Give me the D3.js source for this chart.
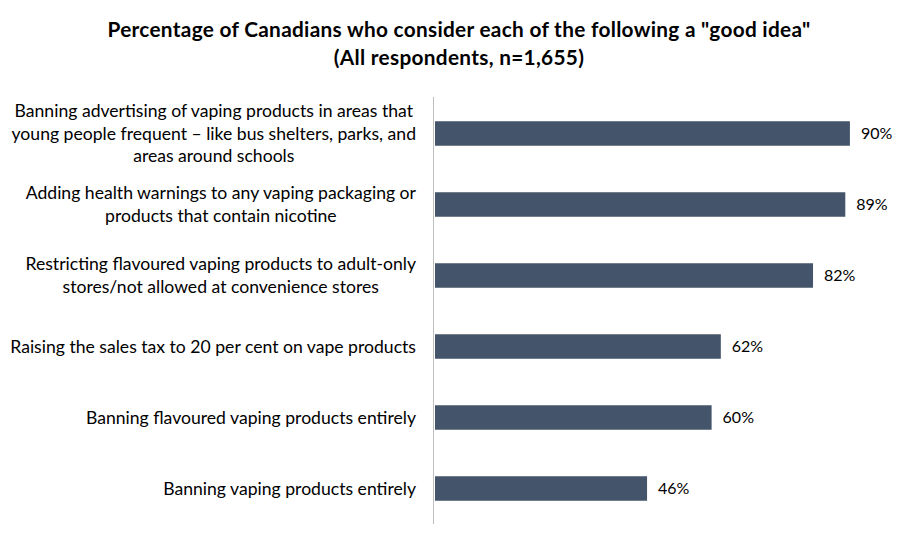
<!DOCTYPE html>
<html><head><meta charset="utf-8">
<script src="https://cdn.jsdelivr.net/npm/d3@7"></script>
<style>body{margin:0;background:#fff}svg{display:block}text{font-family:Lato,"Liberation Sans",sans-serif}</style>
</head><body><svg id="c" width="919" height="547"></svg>
<script>
const titleLines = ['Percentage of Canadians who consider each of the following a "good idea"', '(All respondents, n=1,655)'];
const categories = [
  ["Banning advertising of vaping products in areas that", "young people frequent \u2013 like bus shelters, parks, and", "areas around schools"],
  ["Adding health warnings to any vaping packaging or", "products that contain nicotine"],
  ["Restricting flavoured vaping products to adult-only", "stores/not allowed at convenience stores"],
  ["Raising the sales tax to 20 per cent on vape products"],
  ["Banning flavoured vaping products entirely"],
  ["Banning vaping products entirely"]
];
const values = [90, 89, 82, 62, 60, 46];
const valueLabels = ["90%", "89%", "82%", "62%", "60%", "46%"];

const svg = d3.select("#c");
const x = d3.scaleLinear().domain([0, 100]).range([435, 896]);
const y = d3.scaleBand().domain(d3.range(categories.length)).range([98, 524]).paddingInner(0.655).paddingOuter(0.3275);

svg.append("g").selectAll("text").data(titleLines).join("text")
  .attr("x", 459).attr("y", (d, i) => 37 + i * 28)
  .attr("text-anchor", "middle").attr("font-weight", "bold").attr("font-size", 20.8).attr("letter-spacing", 0.3).attr("fill", "#000")
  .text(d => d);

svg.append("g").selectAll("rect").data(values).join("rect")
  .attr("x", x(0)).attr("y", (d, i) => y(i)).attr("width", d => x(d) - x(0)).attr("height", y.bandwidth())
  .attr("fill", "#44546A");

svg.append("line").attr("x1", 433.5).attr("x2", 433.5).attr("y1", 97).attr("y2", 524)
  .attr("stroke", "#BFBFBF").attr("stroke-width", 1);

svg.append("g").selectAll("text").data(valueLabels).join("text")
  .attr("x", (d, i) => x(values[i]) + 11).attr("y", (d, i) => y(i) + y.bandwidth() / 2)
  .attr("dy", "0.35em").attr("font-size", 16).attr("fill", "#000").text(d => d);

const lh = 22.5;
const g = svg.append("g");
categories.forEach((lines, i) => {
  const cy = y(i) + y.bandwidth() / 2;
  const t = g.append("text").attr("font-size", 17.6).attr("fill", "#000");
  const spans = t.selectAll("tspan").data(lines).join("tspan")
    .attr("y", (d, j) => cy + (j - (lines.length - 1) / 2) * lh).attr("dy", "0.35em").text(d => d);
  const widths = spans.nodes().map(n => n.getComputedTextLength());
  const maxW = d3.max(widths);
  const center = 416 - maxW / 2;
  spans.attr("x", center).attr("text-anchor", "middle");
});
</script></body></html>
